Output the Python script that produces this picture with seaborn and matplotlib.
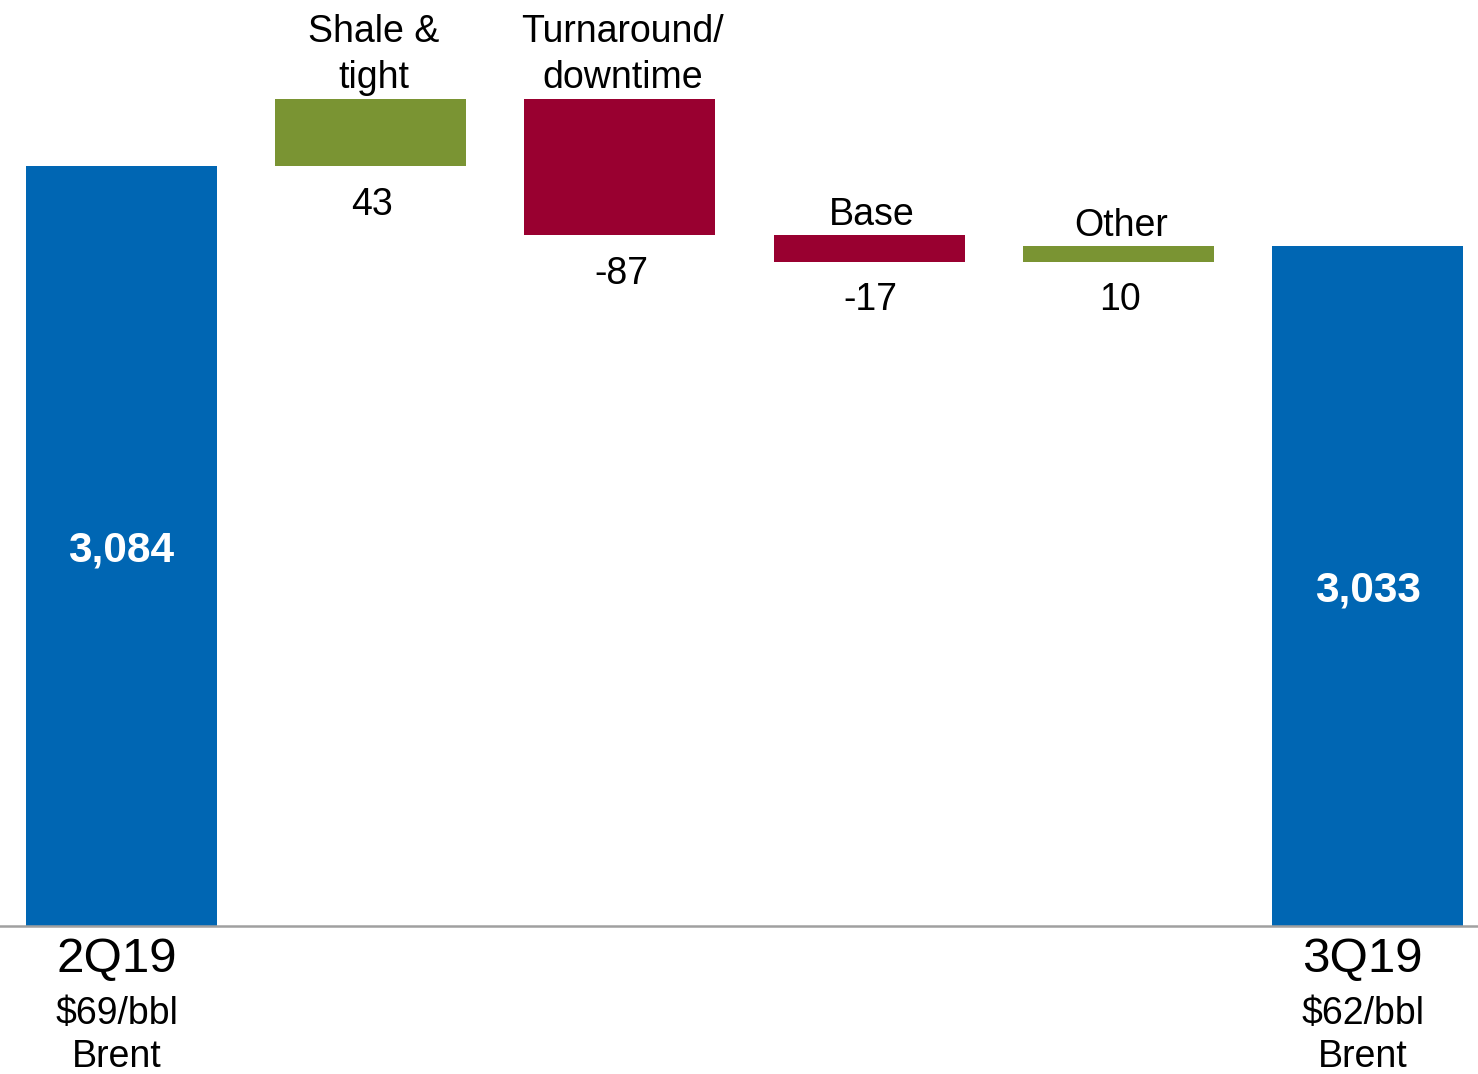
import numpy as np
import pandas as pd
import matplotlib
matplotlib.use("Agg")
import matplotlib.pyplot as plt
import matplotlib.transforms as mtransforms
import seaborn as sns

# Production bridge, thousand barrels of oil equivalent per day
start_label = "2Q19"
end_label = "3Q19"
start_value = 3084
end_value = 3033
step_labels = ["Shale &\ntight", "Turnaround/\ndowntime", "Base", "Other"]
step_values = [43, -87, -17, 10]
start_sub = ["$69/bbl", "Brent"]
end_sub = ["$62/bbl", "Brent"]

BLUE = "#0066B3"
GREEN = "#7A9433"
RED = "#990030"
AXIS_FLOOR = 2600

sns.set_theme(style="white")
plt.rcParams["font.family"] = ["Liberation Sans", "DejaVu Sans"]
plt.rcParams["text.color"] = "black"

# Floating bar geometry from the running total
running = start_value + np.cumsum(step_values)
prev = np.concatenate([[start_value], running[:-1]])
step_bottom = np.minimum(prev, running)
step_height = np.abs(step_values)

keys = ["start", "s1", "s2", "s3", "s4", "end"]
bars = pd.DataFrame({
    "key": keys,
    "height": np.concatenate([[start_value], step_height, [end_value]]),
    "bottom": np.concatenate([[0], step_bottom, [0]]),
})
colors = [BLUE] + [GREEN if v > 0 else RED for v in step_values] + [BLUE]

fig = plt.figure(figsize=(14.78, 10.74), dpi=100)
ax = fig.add_axes([0, 148 / 1074, 1, 926 / 1074])

sns.barplot(data=bars, x="key", y="height", bottom=bars["bottom"].to_numpy(),
            color=BLUE, width=0.766, errorbar=None, saturation=1, linewidth=0,
            ax=ax)
for patch, c in zip(ax.patches, colors):
    patch.set_facecolor(c)
    patch.set_edgecolor("none")

ax.set_xlim(-0.4876, 5.443)
ax.set_ylim(AXIS_FLOOR, 3190)
ax.set_xticks([])
ax.set_yticks([])
ax.set_xlabel("")
ax.set_ylabel("")
for side in ["left", "right", "top"]:
    ax.spines[side].set_visible(False)
ax.spines["bottom"].set_color("#A0A0A0")
ax.spines["bottom"].set_linewidth(1.8)

# Totals inside the blue bars
for xi, v in [(0, start_value), (5, end_value)]:
    ax.text(xi, (AXIS_FLOOR + v) / 2, f"{v:,}", color="white", fontsize=30.5,
            fontweight="bold", ha="center", va="center_baseline")

# Step names above, step values below each floating bar
for i, (name, v) in enumerate(zip(step_labels, step_values)):
    xi = i + 1
    top = step_bottom[i] + step_height[i]
    ax.annotate(name, (xi, top), xytext=(2, 2), textcoords="offset points",
                ha="center", va="bottom", fontsize=27, linespacing=1.35)
    ax.annotate(f"{v}", (xi, step_bottom[i]), xytext=(1, -14.5),
                textcoords="offset points", ha="center", va="top", fontsize=27)

# Period labels beneath the axis
trans = mtransforms.blended_transform_factory(ax.transData, fig.transFigure)
shift = mtransforms.ScaledTranslation(-5 / 100, 0, fig.dpi_scale_trans)
for xi, lab, sub in [(0, start_label, start_sub), (5, end_label, end_sub)]:
    fig.text(xi, 1 - 972 / 1074, lab, transform=trans + shift, ha="center",
             va="baseline", fontsize=35.5)
    fig.text(xi, 1 - 1024 / 1074, sub[0], transform=trans + shift, ha="center",
             va="baseline", fontsize=27)
    fig.text(xi, 1 - 1067 / 1074, sub[1], transform=trans + shift, ha="center",
             va="baseline", fontsize=27)

fig.savefig("out.png", dpi=100, facecolor="white")
